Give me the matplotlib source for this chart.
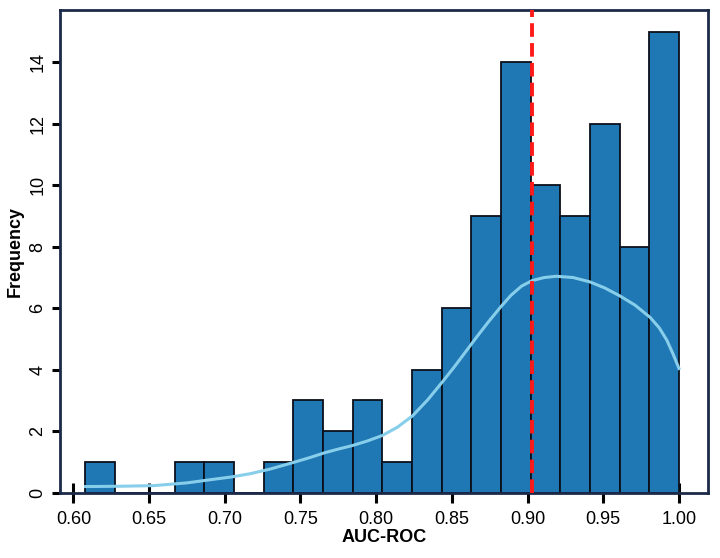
import numpy as np
import matplotlib
matplotlib.use('Agg')
import matplotlib.pyplot as plt

plt.rcParams['font.family'] = ['Liberation Sans', 'DejaVu Sans']

# histogram counts, 20 equal bins between bin_lo and bin_hi
bin_lo = 0.608
bin_hi = 1.0
counts = [1, 0, 0, 1, 1, 0, 1, 3, 2, 3, 1, 4, 6, 9, 14, 10, 9, 12, 8, 15]

# kde curve (scaled to counts)
kde_x = [0.608, 0.630, 0.653, 0.675, 0.690, 0.704, 0.717, 0.730, 0.745, 0.756,
         0.766, 0.775, 0.784, 0.794, 0.804, 0.814, 0.824, 0.834, 0.844, 0.852,
         0.859, 0.866, 0.874, 0.882, 0.889, 0.896, 0.903, 0.911, 0.919, 0.930,
         0.941, 0.951, 0.961, 0.971, 0.981, 0.987, 0.992, 0.996, 1.0]
kde_y = [0.20, 0.21, 0.23, 0.32, 0.42, 0.51, 0.62, 0.77, 0.98, 1.14,
         1.30, 1.42, 1.53, 1.68, 1.86, 2.13, 2.50, 3.02, 3.62, 4.12,
         4.58, 5.04, 5.55, 6.03, 6.42, 6.72, 6.90, 7.00, 7.04, 7.00,
         6.86, 6.66, 6.40, 6.10, 5.70, 5.36, 4.96, 4.52, 4.04]

marker_x = 0.903

edges = np.linspace(bin_lo, bin_hi, len(counts) + 1)
width = edges[1] - edges[0]

fig = plt.figure(figsize=(7.2, 5.58), dpi=100)
ax = fig.add_axes([0.083, 0.117, 0.9, 0.865])

ax.bar(edges[:-1], counts, width=width, align='edge', color='#1f77b4',
       edgecolor='#0b0f1a', linewidth=1.3, zorder=2)
ax.plot(kde_x, kde_y, color='#87ceeb', linewidth=2.2, zorder=3,
        solid_joinstyle='round')
ax.axvline(marker_x, color='#ff1a1a', linestyle=(0, (3.5, 1.6)), linewidth=2.8, zorder=4)

ax.set_xlim(0.591, 1.019)
ax.set_ylim(0, 15.7)
ax.set_xticks([0.60, 0.65, 0.70, 0.75, 0.80, 0.85, 0.90, 0.95, 1.00])
ax.set_xticklabels(['0.60', '0.65', '0.70', '0.75', '0.80', '0.85', '0.90', '0.95', '1.00'])
ax.set_yticks(range(0, 15, 2))

for s in ax.spines.values():
    s.set_color('#1c2a4a')
    s.set_linewidth(2)

ax.tick_params(axis='x', direction='inout', length=14, width=2.2, color='black',
               labelsize=13, pad=6)
ax.tick_params(axis='y', direction='out', length=6, width=2.2, color='black',
               labelsize=13, labelrotation=90)
for lbl in ax.get_yticklabels():
    lbl.set_va('center')

ax.set_xlabel('AUC-ROC', fontsize=13, fontweight='bold', labelpad=1)
ax.set_ylabel('Frequency', fontsize=13, fontweight='bold', labelpad=4)

fig.savefig('out.png', dpi=100)
